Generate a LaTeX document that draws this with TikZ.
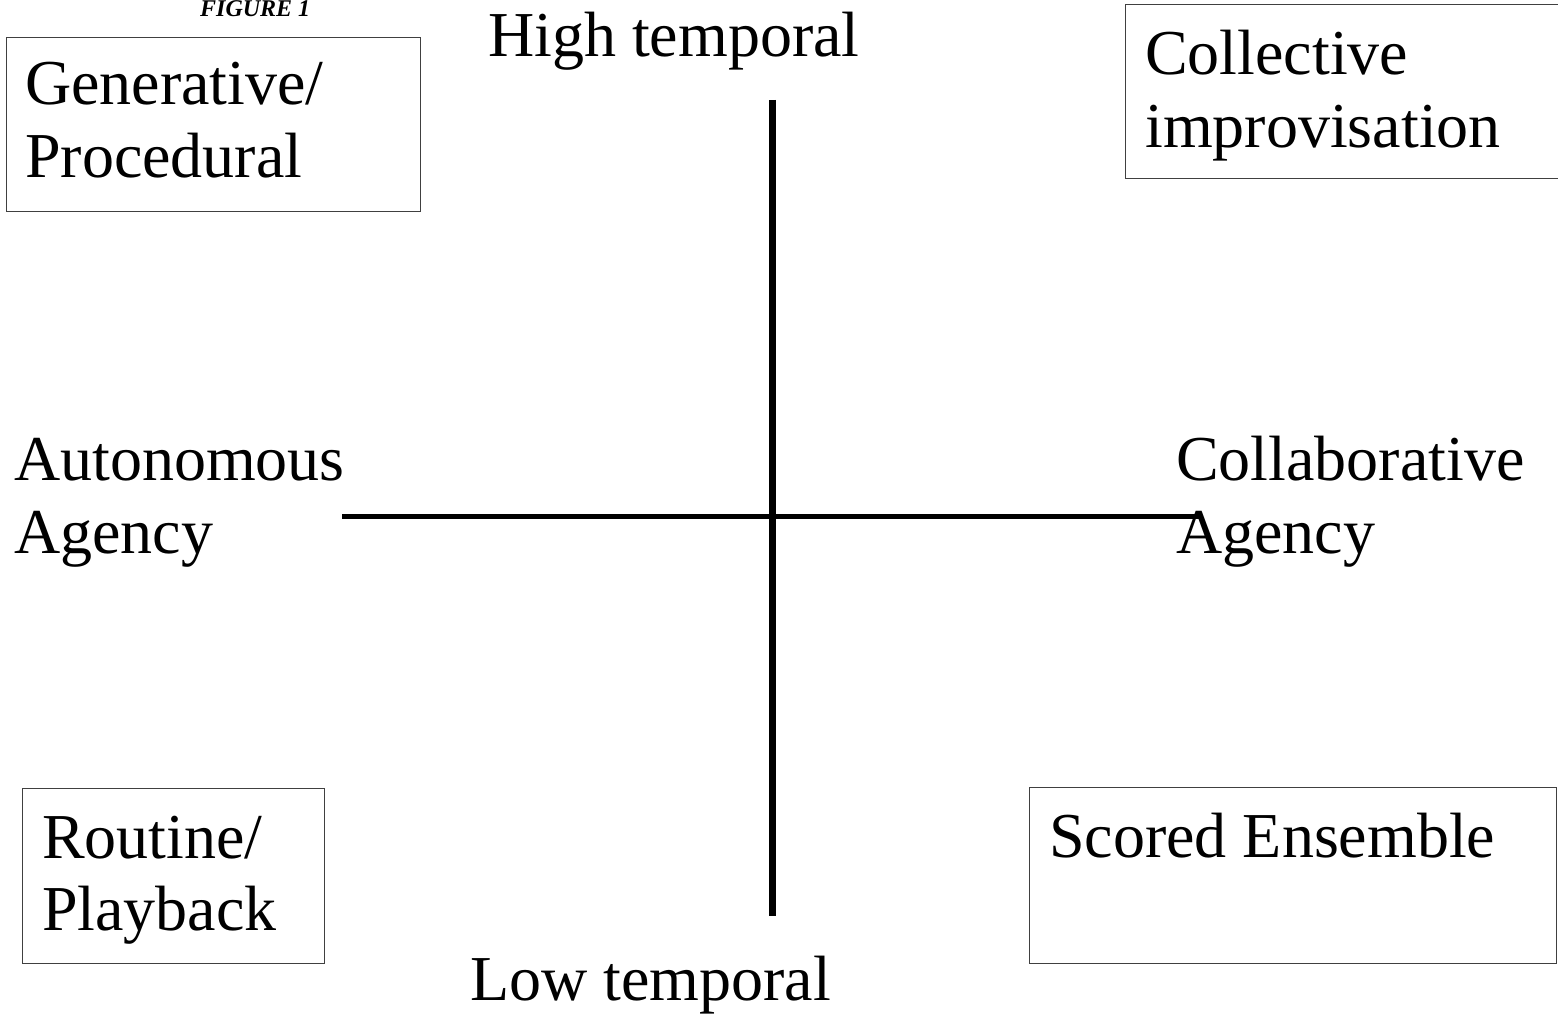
\documentclass[tikz,border=0pt]{standalone}
\usepackage{fontspec}
\setmainfont{Liberation Serif}
\begin{document}
\begin{tikzpicture}[x=1pt,y=-1pt,
  lbl/.style={anchor=base west,inner sep=0pt,font=\fontsize{64}{73}\selectfont},
  qbox/.style={draw=black!75,line width=1.3pt,anchor=north west,inner sep=0pt},
  axis/.style={line width=6pt,black}]
\useasboundingbox (0,0) rectangle (1558,1014);
% boxes
\node[qbox,minimum width=414pt,minimum height=174pt] (gen) at (6,37) {};
\node[qbox,minimum width=445pt,minimum height=174pt] (col) at (1125,4) {};
\node[qbox,minimum width=302pt,minimum height=175pt] (rou) at (22,788) {};
\node[qbox,minimum width=527pt,minimum height=176pt] (sco) at (1029,787) {};
% box texts
\node[lbl] (gen1) at (25,105) {Generative/};
\node[lbl] (gen2) at (25,178) {Procedural};
\node[lbl] (col1) at (1145,75) {Collective};
\node[lbl] (col2) at (1145,147) {improvisation};
\node[lbl] (rou1) at (42,858) {Routine/};
\node[lbl] (rou2) at (42,930) {Playback};
\node[lbl] (sco1) at (1049,857) {Scored Ensemble};
% figure title
\node[anchor=base west,inner sep=0pt,font=\fontsize{24}{28}\selectfont\bfseries\itshape] (fig) at (200,17) {FIGURE 1};
% axes
\coordinate (top) at (772,100);
\coordinate (bot) at (772,916);
\coordinate (lft) at (342,516);
\coordinate (rgt) at (1200,516);
\draw[axis,line width=7pt] (top) -- (bot);
\draw[axis,line width=5pt] (lft) -- (rgt);
% axis labels
\node[lbl] (high) at (488,57) {High temporal};
\node[lbl] (low) at (470,1000) {Low temporal};
\node[lbl] (aut1) at (14,480) {Autonomous};
\node[lbl] (aut2) at (14,553) {Agency};
\node[lbl] (cola1) at (1176,480) {Collaborative};
\node[lbl] (cola2) at (1176,553) {Agency};
\end{tikzpicture}
\end{document}
